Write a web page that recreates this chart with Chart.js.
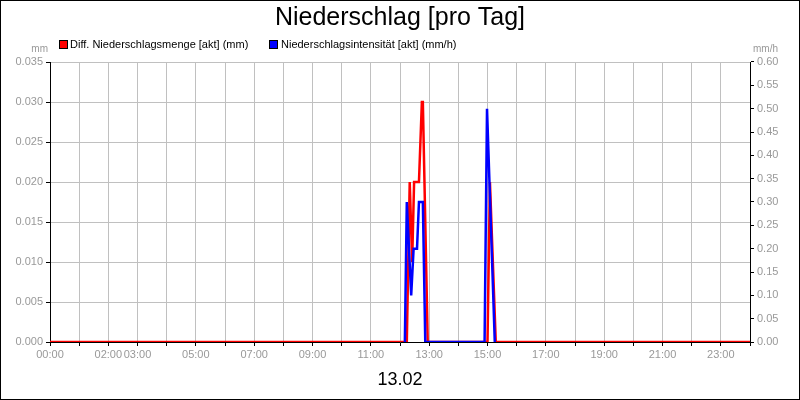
<!DOCTYPE html>
<html><head><meta charset="utf-8">
<script src="https://cdn.jsdelivr.net/npm/chart.js@4"></script>
<style>html,body{margin:0;padding:0;background:#fff}canvas{display:block}</style>
</head><body><canvas id="c" width="800" height="400" style="width:800px;height:400px"></canvas>
<script>
const redTimes  = [0, 734, 740, 745, 749, 759, 765, 767, 777, 900, 905, 917, 1440];
const redValues = [0, 0, 0.02, 0.01, 0.02, 0.02, 0.03, 0.03, 0, 0, 0.02, 0, 0];
const blueTimes  = [730, 734, 743, 748, 755, 759, 767, 772, 894, 899, 915];
const blueValues = [0, 0.30, 0.10, 0.20, 0.20, 0.30, 0.30, 0, 0, 0.50, 0];
const labeledHours = [0, 2, 3, 5, 7, 9, 11, 13, 15, 17, 19, 21, 23];
const titleText = "Niederschlag [pro Tag]";
const dateText = "13.02";
const redLabel = "Diff. Niederschlagsmenge [akt] (mm)";
const blueLabel = "Niederschlagsintensität [akt] (mm/h)";

const F = "Liberation Sans, Arial, sans-serif";
const grey = "#999";
const deco = {
  id: 'deco',
  afterDraw(ch) {
    const c = ch.ctx; c.save();
    c.fillStyle = '#000'; c.textAlign = 'center'; c.textBaseline = 'middle';
    c.font = '25px ' + F; c.fillText(titleText, 400, 18);
    c.font = '18px ' + F; c.fillText(dateText, 400, 380);
    c.font = '11px ' + F; c.textAlign = 'left';
    c.fillStyle = '#f00'; c.fillRect(59, 40, 9, 9); c.strokeStyle='#000'; c.lineWidth=1; c.strokeRect(59.5,40.5,8,8);
    c.fillStyle = '#000'; c.fillText(redLabel, 70, 45);
    c.fillStyle = '#00f'; c.fillRect(269, 40, 9, 9); c.strokeRect(269.5,40.5,8,8);
    c.fillStyle = '#000'; c.fillText(blueLabel, 281, 45);
    c.fillStyle = grey; c.font = '10px ' + F;
    c.textAlign = 'right'; c.fillText('mm', 48, 49);
    c.textAlign = 'left'; c.fillText('mm/h', 753, 49);
    c.strokeStyle = '#000'; c.lineWidth = 1; c.strokeRect(0.5, 0.5, 799, 399);
    c.restore();
  }
};
new Chart(document.getElementById('c'), {
  type: 'line',
  data: { datasets: [
    { label: redLabel, data: redTimes.map((t,i)=>({x:t,y:redValues[i]})), borderColor:'#f00', borderWidth:2.5, pointRadius:0, fill:false, yAxisID:'y', order:2 },
    { label: blueLabel, data: blueTimes.map((t,i)=>({x:t,y:blueValues[i]})), borderColor:'#00f', borderWidth:2.5, pointRadius:0, fill:false, yAxisID:'y1', order:1 }
  ]},
  options: {
    responsive:false, animation:false, devicePixelRatio:1,
    layout:{padding:{top:62, left:0, right:0, bottom:0}},
    plugins:{legend:{display:false}, title:{display:false}, tooltip:{enabled:false}},
    scales:{
      x:{type:'linear', min:0, max:1440,
        afterBuildTicks(s){ s.ticks=[]; for(let h=0;h<=24;h++) s.ticks.push({value:h*60}); },
        afterFit(s){ s.height=58; },
        ticks:{autoSkip:false, maxRotation:0, color:grey, font:{family:F,size:11}, padding:2,
          callback(v){ const h=v/60; return labeledHours.includes(h) ? String(h).padStart(2,'0')+':00' : ''; }},
        grid:{color:'#c0c0c0', tickLength:4, tickColor:'#000'}, border:{color:'#000'}},
      y:{position:'left', min:0, max:0.035,
        afterBuildTicks(s){ s.ticks=[]; for(let i=0;i<=7;i++) s.ticks.push({value:i*0.005}); },
        afterFit(s){ s.width=50; },
        ticks:{color:grey, font:{family:F,size:11}, padding:3, callback:v=>v.toFixed(3)},
        grid:{color:'#c0c0c0', tickLength:4, tickColor:'#000'}, border:{color:'#000'}},
      y1:{position:'right', min:0, max:0.6,
        afterBuildTicks(s){ s.ticks=[]; for(let i=0;i<=12;i++) s.ticks.push({value:i*0.05}); },
        afterFit(s){ s.width=50; },
        ticks:{color:grey, font:{family:F,size:11}, padding:3, callback:v=>v.toFixed(2)},
        grid:{drawOnChartArea:false, tickLength:4, tickColor:'#000'}, border:{color:'#000'}}
    }
  },
  plugins:[deco]
});
</script></body></html>
